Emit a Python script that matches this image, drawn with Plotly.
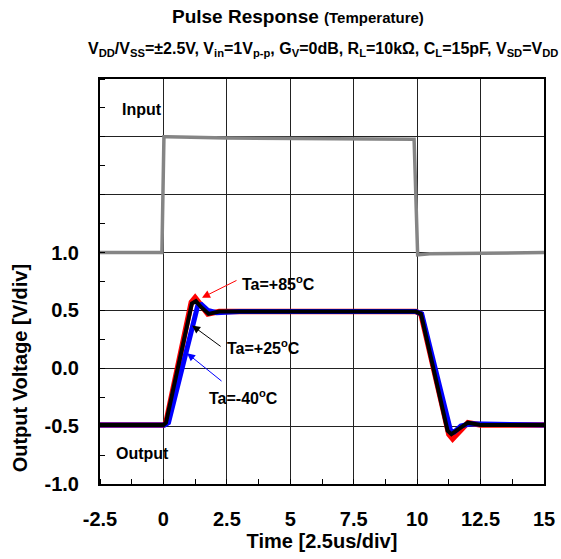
import plotly.graph_objects as go

# Entrada (cinza)
t_input = [-2.5, -0.06, 0.02, 0.15, 2.5, 9.88, 10.02, 10.5, 15]
v_input = [1.0, 1.0, 2.0, 2.0, 1.99, 1.98, 0.98, 0.99, 1.0]

# Saídas por temperatura
t_85 = [-2.5, 0.0, 0.1, 1.1, 1.25, 1.45, 1.75, 2.2, 3.0, 9.95, 10.15, 11.25, 11.4, 11.65, 12.0, 12.5, 15]
v_85 = [-0.49, -0.49, -0.47, 0.57, 0.61, 0.55, 0.47, 0.49, 0.49, 0.49, 0.47, -0.57, -0.61, -0.55, -0.47, -0.49, -0.49]

t_40 = [-2.5, 0.05, 0.2, 1.35, 1.5, 1.75, 2.1, 3.0, 9.95, 10.18, 11.32, 11.47, 11.72, 12.1, 15]
v_40 = [-0.49, -0.49, -0.47, 0.54, 0.55, 0.5, 0.48, 0.49, 0.49, 0.47, -0.54, -0.55, -0.5, -0.48, -0.49]

t_25 = [-2.5, 0.0, 0.1, 1.12, 1.28, 1.48, 1.78, 2.2, 3.0, 9.95, 10.15, 11.2, 11.35, 11.6, 12.0, 12.5, 15]
v_25 = [-0.49, -0.49, -0.47, 0.56, 0.58, 0.53, 0.47, 0.49, 0.49, 0.49, 0.47, -0.54, -0.57, -0.53, -0.47, -0.49, -0.49]

x_ticks = [-2.5, 0, 2.5, 5, 7.5, 10, 12.5, 15]
x_labels = ['-2.5', '0', '2.5', '5', '7.5', '10', '12.5', '15']
y_ticks = [-1.0, -0.5, 0.0, 0.5, 1.0, 1.5, 2.0, 2.5]
y_labels = ['-1.0', '-0.5', '0.0', '0.5', '1.0', '', '', '']

FONT = 'Liberation Sans, Arial, sans-serif'

fig = go.Figure()
fig.add_trace(go.Scatter(x=t_input, y=v_input, mode='lines',
                         line=dict(color='#858585', width=3.5)))
fig.add_trace(go.Scatter(x=t_85, y=v_85, mode='lines',
                         line=dict(color='#ff0000', width=5.5)))
fig.add_trace(go.Scatter(x=t_40, y=v_40, mode='lines',
                         line=dict(color='#0000ff', width=5)))
fig.add_trace(go.Scatter(x=t_25, y=v_25, mode='lines',
                         line=dict(color='#000000', width=4)))

annotations = [
    dict(text='<b>Pulse Response</b> <b><span style="font-size:15px">(Temperature)</span></b>',
         xref='paper', yref='paper', x=0.445, y=1.0, yshift=63, xanchor='center',
         yanchor='middle', showarrow=False, font=dict(size=19)),
    dict(text='<b>V<sub>DD</sub>/V<sub>SS</sub>=±2.5V, V<sub>in</sub>=1V<sub>p-p</sub>, '
              'G<sub>V</sub>=0dB, R<sub>L</sub>=10kΩ, C<sub>L</sub>=15pF, '
              'V<sub>SD</sub>=V<sub>DD</sub></b>',
         xref='paper', yref='paper', x=-0.0315, y=1.0, yshift=30, xanchor='left',
         yanchor='middle', showarrow=False, font=dict(size=16)),
    dict(text='<b>Output Voltage [V/div]</b>', xref='paper', yref='y', x=-0.18, y=0.0,
         xanchor='center', yanchor='middle', textangle=-90, showarrow=False,
         font=dict(size=20)),
    dict(text='<b>Input</b>', x=-0.85, y=2.24, showarrow=False, font=dict(size=16)),
    dict(text='<b>Output</b>', x=-0.82, y=-0.74, showarrow=False, font=dict(size=16)),
    dict(text='<b>Ta=+85<sup>o</sup>C</b>', x=3.0, y=0.74, xanchor='left',
         showarrow=False, font=dict(size=16)),
    dict(text='<b>Ta=+25<sup>o</sup>C</b>', x=2.42, y=0.18, xanchor='left',
         showarrow=False, font=dict(size=16)),
    dict(text='<b>Ta=-40<sup>o</sup>C</b>', x=1.7, y=-0.25, xanchor='left',
         showarrow=False, font=dict(size=16)),
    # setas
    dict(text='', x=1.52, y=0.61, ax=36, ay=-18, showarrow=True, arrowhead=2,
         arrowsize=1.6, arrowwidth=1, arrowcolor='#ff0000'),
    dict(text='', x=1.13, y=0.37, ax=30, ay=22, showarrow=True, arrowhead=2,
         arrowsize=1.6, arrowwidth=1, arrowcolor='#000000'),
    dict(text='', x=0.93, y=0.13, ax=36, ay=29, showarrow=True, arrowhead=2,
         arrowsize=1.6, arrowwidth=1, arrowcolor='#0000ff'),
]

fig.update_layout(
    width=561, height=559, autosize=False,
    margin=dict(l=100, r=17, t=79, b=75),
    paper_bgcolor='white', plot_bgcolor='white',
    showlegend=False,
    font=dict(family=FONT, color='black'),
    annotations=annotations,
    xaxis=dict(
        range=[-2.5, 15], tickvals=x_ticks, ticktext=x_labels,
        showgrid=True, gridcolor='#222222', gridwidth=1,
        showline=True, linecolor='black', linewidth=2, mirror=True,
        zeroline=False, ticks='', ticklabelstandoff=16, automargin=False,
        tickfont=dict(size=20, family=FONT, weight='bold'),
        minor=dict(tickmode='linear', tick0=0, dtick=1.25, ticks='inside',
                   ticklen=5, tickcolor='black', showgrid=False),
        title=dict(text='<b>Time [2.5us/div]</b>', font=dict(size=20), standoff=1),
    ),
    yaxis=dict(
        range=[-1.0, 2.5], tickvals=y_ticks, ticktext=y_labels,
        showgrid=True, gridcolor='#222222', gridwidth=1,
        showline=True, linecolor='black', linewidth=2, mirror=True,
        zeroline=False, ticks='', ticklabelstandoff=15, automargin=False,
        tickfont=dict(size=20, family=FONT, weight='bold'),
        minor=dict(tickmode='linear', tick0=0, dtick=0.25, ticks='inside',
                   ticklen=5, tickcolor='black', showgrid=False),
    ),
)

# figura ocupa a janela toda: sem margem do body e sem barras de rolagem
page_css = ("document.body.style.margin='0';"
            "document.body.style.overflow='hidden';"
            "document.documentElement.style.overflow='hidden';")
fig.write_html("out.html", config={'displayModeBar': False}, post_script=page_css)
